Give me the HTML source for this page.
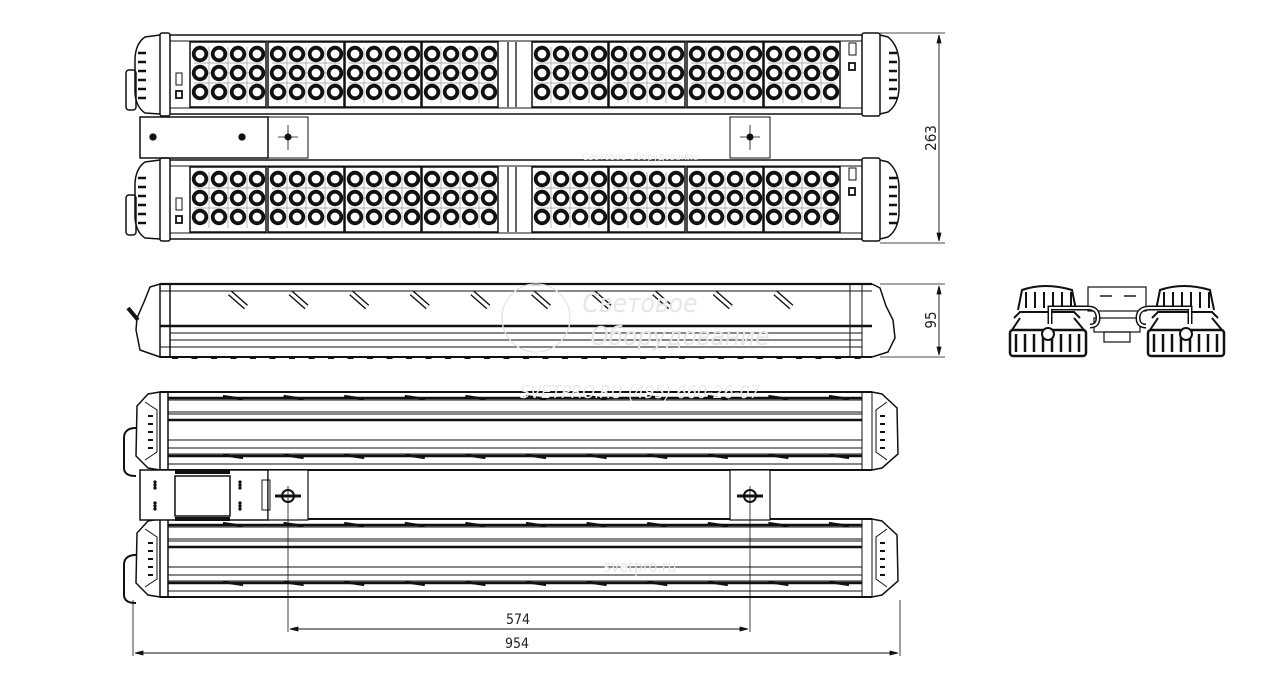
<!DOCTYPE html>
<html><head><meta charset="utf-8"><style>
html,body{margin:0;padding:0;background:#fff;width:1280px;height:683px;overflow:hidden}
svg{display:block}
text{font-family:"DejaVu Sans Condensed","Liberation Sans",sans-serif;fill:#222;stroke:none}
</style></head><body>
<svg id="s" width="1280" height="683" viewBox="0 0 1280 683" xmlns="http://www.w3.org/2000/svg" fill="none" stroke="#111" stroke-width="1.3">
<g id="g"></g>
<!-- watermark -->
<text x="640" y="312" font-size="26" text-anchor="middle" style="fill:#e6e6e6;font-style:italic">Световое</text>
<text x="680" y="345" font-size="26" text-anchor="middle" style="fill:#e6e6e6;font-style:italic">Оборудование</text>
<text x="640" y="398" font-size="18" text-anchor="middle" style="fill:#ececec;font-style:italic">SVETPRO.RU   (495) 660-26-07</text>
<text x="640" y="160" font-size="10" text-anchor="middle" style="fill:#e8e8e8">Световое Оборудование</text>
<text x="640" y="572" font-size="16" text-anchor="middle" style="fill:#e8e8e8">svetpro.ru</text>
<circle cx="536" cy="318" r="34" stroke="#e4e4e4"/>
<!-- dimension texts -->
<text x="0" y="0" font-size="15" text-anchor="middle" transform="translate(936,138) rotate(-90)">263</text>
<text x="0" y="0" font-size="15" text-anchor="middle" transform="translate(936,320) rotate(-90)">95</text>
<text x="518" y="624" font-size="14" text-anchor="middle">574</text>
<text x="517" y="648" font-size="14" text-anchor="middle">954</text>
</svg>
<script>
var g=document.getElementById('g'),h='';
function L(x1,y1,x2,y2,w,c){h+='<line x1="'+x1+'" y1="'+y1+'" x2="'+x2+'" y2="'+y2+'"'+(w?' stroke-width="'+w+'"':'')+(c?' stroke="'+c+'"':'')+'/>';}
function R(x,y,w,hh,sw,f,rx){h+='<rect x="'+x+'" y="'+y+'" width="'+w+'" height="'+hh+'"'+(sw?' stroke-width="'+sw+'"':'')+(f?' fill="'+f+'"':'')+(rx?' rx="'+rx+'"':'')+'/>';}
function C(x,y,r,sw,f){h+='<circle cx="'+x+'" cy="'+y+'" r="'+r+'"'+(sw?' stroke-width="'+sw+'"':'')+(f?' fill="'+f+'"':'')+'/>';}
function P(d,sw,f){h+='<path d="'+d+'"'+(sw?' stroke-width="'+sw+'"':'')+(f?' fill="'+f+'"':'')+'/>';}
// ---------- TOP VIEW ----------
var panels=[190,268,345,422,532,609,687,764];
function topBar(y){
  R(160,y,10,83,1.5,'#fff',2);R(862,y,18,83,1.5,'#fff',2);
  P('M160 '+(y+2)+' L145 '+(y+4)+' Q136 '+(y+10)+' 135 '+(y+25)+' L135 '+(y+60)+' Q136 '+(y+74)+' 145 '+(y+80)+' L160 '+(y+81),1.5);
  P('M880 '+(y+2)+' L888 '+(y+4)+' Q898 '+(y+12)+' 899 '+(y+28)+' L899 '+(y+56)+' Q898 '+(y+72)+' 888 '+(y+79)+' L880 '+(y+81),1.5);
  for(var k=0;k<6;k++){L(138,y+20+k*9,146,y+20+k*9,2.5);L(889,y+20+k*9,897,y+20+k*9,2.5);}
  L(170,y+2,862,y+2,1.6);L(170,y+8,862,y+8,1);L(170,y+75,862,y+75,1);L(170,y+81,862,y+81,1.6);
  R(126,y+37,10,40,1.5,null,3);
  R(170,y+8,692,67,1);
  for(var p=0;p<panels.length;p++){
    var px=panels[p];R(px,y+9,76,65,1.5);
    for(var r=0;r<3;r++){L(px+4,y+30+r*10,px+72,y+30+r*10,0.7,'#999');}
    for(var c=0;c<3;c++){L(px+19+c*19,y+14,px+19+c*19,y+70,0.7,'#999');}
    for(var c=0;c<4;c++)for(var r=0;r<3;r++){C(px+10+c*19,y+21+r*19,6.3,3.8,'#fff');}
  }
  R(176,y+40,6,12,1);R(176,y+58,6,7,1.8);R(849,y+10,7,12,1);R(849,y+30,6,7,1.8);
  L(508,y+9,508,y+74,1.3);L(516,y+9,516,y+74,1.3);
}
topBar(33);topBar(158);
R(140,117,128,41,1.5);C(153,137,3,0,'#111');C(242,137,3,0,'#111');
R(268,117,40,41,1);L(278,137,298,137,0.8);L(288,125,288,150,0.8);C(288,137,3,1,'#111');
R(730,117,40,41,1);L(740,137,760,137,0.8);L(750,125,750,150,0.8);C(750,137,3,1,'#111');
L(880,33,945,33,0.8);L(880,243,945,243,0.8);L(939,35,939,241,0.9);
P('M939 35 l-2 8 h4z',0.8,'#111');P('M939 241 l-2 -8 h4z',0.8,'#111');
// ---------- SIDE VIEW ----------
L(160,284,872,284,2.2);L(160,291,872,291,1);L(160,326,872,326,2.5);L(170,333,862,333,1);L(170,340,862,340,1);L(160,347,862,347,1);L(160,357,872,357,2);
R(160,284,10,73,1.5);R(850,284,12,73,1);
P('M160 284 L150 287 L144 302 L137 318 L136 330 L140 350 L160 357',1.5);
P('M872 284 L880 288 L886 306 L893 320 L895 338 L888 352 L872 357',1.5);
P('M128 308 l10 12',4);
for(var i=0;i<10;i++){var x=238+i*60.6;P('M'+(x-8)+' 293 L'+(x+8)+' 307',6);}
h+='<g stroke="#fff">';for(var i=0;i<10;i++){var x=238+i*60.6;P('M'+(x-8)+' 293 L'+(x+8)+' 307',3.2);}h+='</g>';
for(var x=172;x<860;x+=19.5){L(x,358,x+6,358,2);}
L(880,284,945,284,0.8);L(880,357,945,357,0.8);L(939,286,939,355,0.9);
P('M939 286 l-2 8 h4z',0.8,'#111');P('M939 355 l-2 -8 h4z',0.8,'#111');
// ---------- END VIEW ----------
function endUnit(x){
  P('M'+(x+8)+' 310 L'+(x+12)+' 290 Q'+(x+35)+' 282 '+(x+62)+' 290 L'+(x+66)+' 310',2);
  for(var k=0;k<6;k++)L(x+16+k*9,292,x+16+k*9,308,2);
  P('M'+(x+4)+' 318 L'+(x+10)+' 312 L'+(x+64)+' 312 L'+(x+70)+' 318',2);
  R(x,330,76,26,2.5,null,3);
  for(var k=0;k<8;k++)L(x+6+k*9,334,x+6+k*9,352,2.5);
  C(x+38,334,6,2,'#fff');L(x+10,318,x+2,330,2);L(x+64,318,x+74,330,2);
}
endUnit(1010);endUnit(1148);
R(1088,287,58,24,1.2);L(1100,296,1112,296,2,'#555');L(1124,296,1136,296,2,'#555');
R(1094,318,46,14,1.2);R(1104,332,26,10,1.2);
P('M1050 324 L1050 308 L1088 308 Q1098 308 1098 318 Q1098 326 1090 326',5);
P('M1190 324 L1190 308 L1150 308 Q1138 308 1138 318 Q1138 326 1146 326',5);
h+='<g stroke="#fff">';P('M1050 324 L1050 308 L1088 308 Q1098 308 1098 318 Q1098 326 1090 326',2);P('M1190 324 L1190 308 L1150 308 Q1138 308 1138 318 Q1138 326 1146 326',2);h+='</g>';
// ---------- BOTTOM VIEW ----------
function botBar(y){
  L(160,y,872,y,2);L(160,y+78,872,y+78,2);
  var ls=[6,8,20,22,28,48,56,62,64,72];
  for(var k=0;k<ls.length;k++)L(168,y+ls[k],862,y+ls[k],(k==0||k==4||k==8)?2.4:1);
  R(160,y,8,78,1.5);R(862,y,10,78,1);
  P('M160 '+y+' L148 '+(y+2)+' L137 '+(y+14)+' L136 '+(y+64)+' L148 '+(y+76)+' L160 '+(y+78),1.5);
  P('M145 '+(y+10)+' L157 '+(y+18)+' L157 '+(y+60)+' L145 '+(y+68),1);
  P('M872 '+y+' L882 '+(y+2)+' L897 '+(y+16)+' L898 '+(y+62)+' L882 '+(y+76)+' L872 '+(y+78),1.5);
  P('M887 '+(y+10)+' L876 '+(y+18)+' L876 '+(y+60)+' L887 '+(y+68),1);
  for(var k=0;k<5;k++){L(148,y+24+k*8,153,y+24+k*8,2);L(880,y+24+k*8,885,y+24+k*8,2);}
  P('M136 '+(y+36)+' Q124 '+(y+36)+' 124 '+(y+46)+' L124 '+(y+76)+' Q124 '+(y+84)+' 136 '+(y+84),2);
  for(var i=0;i<11;i++){var x=233+i*60.6;P('M'+(x-10)+' '+(y+4)+' L'+(x+10)+' '+(y+7),2.4);P('M'+(x-10)+' '+(y+63)+' L'+(x+10)+' '+(y+66),2.4);}
}
botBar(392);botBar(519);
R(140,470,128,50,1.5,'#fff');R(175,476,55,40,1.5,'#fff');
L(175,472,230,472,4);L(175,519,230,519,4);
for(var k=0;k<3;k++){C(155,482+k*3,1,0,'#111');C(155,503+k*3,1,0,'#111');C(240,482+k*3,1,0,'#111');C(240,503+k*3,1,0,'#111');}
R(268,470,40,50,1.2,'#fff');R(262,480,8,30,1);
R(730,470,40,50,1.2,'#fff');
P('M282 496 a6 6 0 0 1 12 0 a6 6 0 0 1 -12 0z',2);L(275,496,301,496,3);
P('M744 496 a6 6 0 0 1 12 0 a6 6 0 0 1 -12 0z',2);L(737,496,763,496,3);
L(288,486,288,632,0.8);L(750,486,750,632,0.8);L(133,600,133,656,0.8);L(900,600,900,656,0.8);
L(290,629,748,629,0.9);P('M290 629 l8 -2 v4z',0.8,'#111');P('M748 629 l-8 -2 v4z',0.8,'#111');
L(135,653,898,653,0.9);P('M135 653 l8 -2 v4z',0.8,'#111');P('M898 653 l-8 -2 v4z',0.8,'#111');
g.innerHTML=h;
</script>
</body></html>
